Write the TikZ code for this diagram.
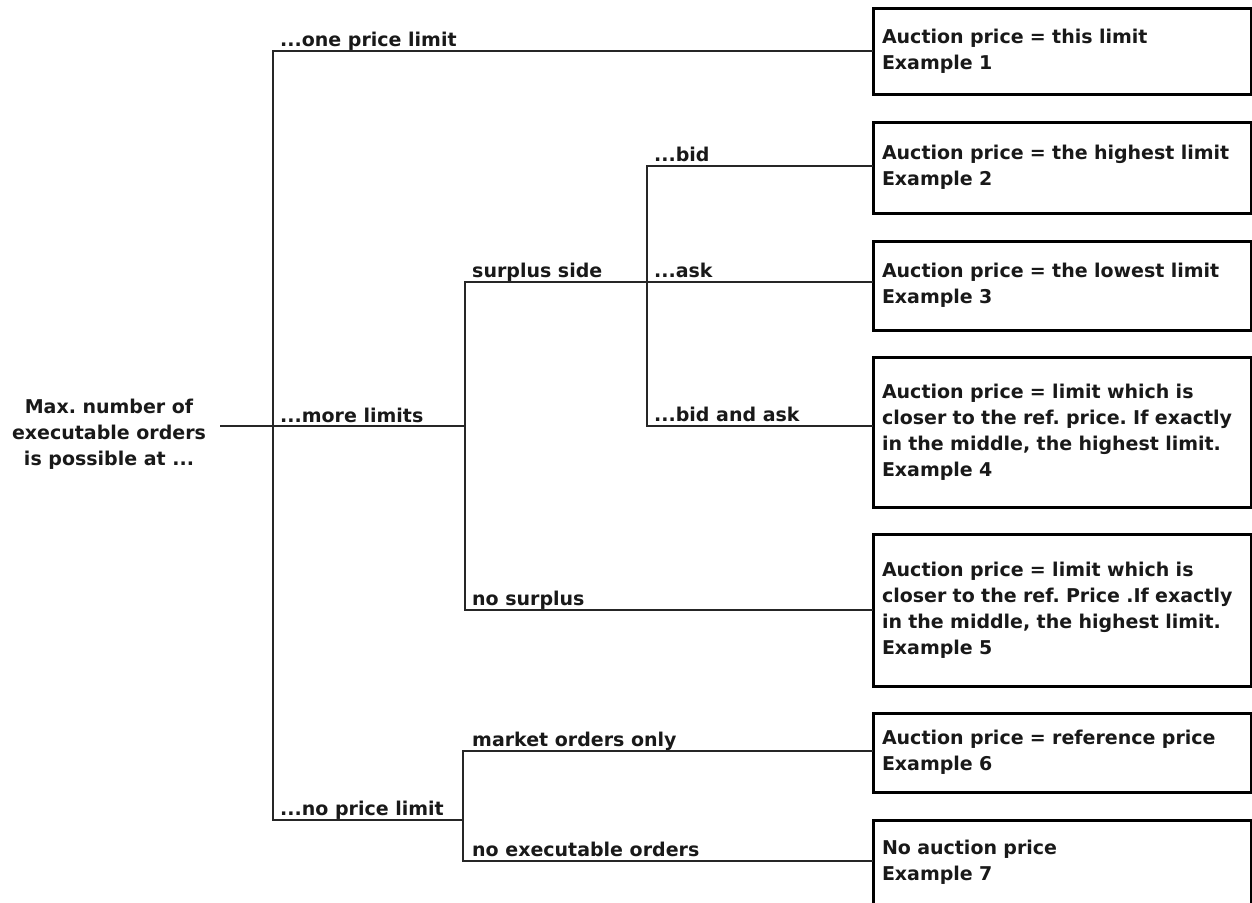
\documentclass[tikz,border=0pt]{standalone}
\usepackage{fontspec}
\setmainfont{DejaVu Sans}
\frenchspacing
\begin{document}
\begin{tikzpicture}[x=1pt,y=-1pt,
  every node/.style={font=\fontsize{19}{26}\selectfont\bfseries\frenchspacing, text=black!90},
  conn/.style={draw=black!85, line width=1.8pt, line join=miter},
  resbox/.style={draw=black, line width=3pt, anchor=north west, outer sep=0pt,
    minimum width=378pt, text width=360pt, align=left, inner xsep=9pt, inner ysep=0pt},
  lab/.style={anchor=base west, inner sep=0pt}]
\useasboundingbox (0,0) rectangle (1252,902);

% result boxes
\node[resbox, minimum height=86pt]  (b1) at (873,8)   {Auction price = this limit\\Example 1};
\node[resbox, minimum height=91pt]  (b2) at (873,122) {Auction price = the highest limit\\Example 2};
\node[resbox, minimum height=89pt]  (b3) at (873,241) {Auction price = the lowest limit\\Example 3};
\node[resbox, minimum height=150pt] (b4) at (873,357) {Auction price = limit which is\\closer to the ref. price. If exactly\\in the middle, the highest limit.\\Example 4};
\node[resbox, minimum height=152pt] (b5) at (873,534) {Auction price = limit which is\\closer to the ref. Price .If exactly\\in the middle, the highest limit.\\Example 5};
\node[resbox, minimum height=79pt]  (b6) at (873,713) {Auction price = reference price\\Example 6};
\node[resbox, minimum height=84pt]  (b7) at (873,820) {No auction price\\Example 7};

% root
\node[align=center, inner xsep=14pt] (root) at (109,434) {Max. number of\\executable orders\\is possible at ...};

% labels
\node[lab] (l1)  at (280,46)  {...one price limit};
\node[lab] (l2)  at (280,422) {...more limits};
\node[lab] (l3)  at (280,815) {...no price limit};
\node[lab] (l4)  at (472,277) {surplus side};
\node[lab] (l5)  at (472,605) {no surplus};
\node[lab] (l6)  at (472,746) {market orders only};
\node[lab] (l7)  at (472,856) {no executable orders};
\node[lab] (l8)  at (654,161) {...bid};
\node[lab] (l9)  at (654,277) {...ask};
\node[lab] (l10) at (654,421) {...bid and ask};

% junctions
\coordinate (ta) at (273,51);
\coordinate (tb) at (273,426);
\coordinate (tc) at (273,820);
\coordinate (sa) at (465,282);
\coordinate (sb) at (465,426);
\coordinate (sc) at (465,610);
\coordinate (ba) at (647,166);
\coordinate (bc) at (647,426);
\coordinate (na) at (463,751);
\coordinate (nb) at (463,820);
\coordinate (nc) at (463,861);

% connectors
\draw[conn] (ta -| b1.west) -- (ta) -- (tc) -- (nb);
\draw[conn] (root.east |- tb) -- (sb);
\draw[conn] (sa -| b3.west) -- (sa) -- (sc) -- (sc -| b5.west);
\draw[conn] (ba -| b2.west) -- (ba) -- (bc) -- (bc -| b4.west);
\draw[conn] (na -| b6.west) -- (na) -- (nc) -- (nc -| b7.west);
\end{tikzpicture}
\end{document}
